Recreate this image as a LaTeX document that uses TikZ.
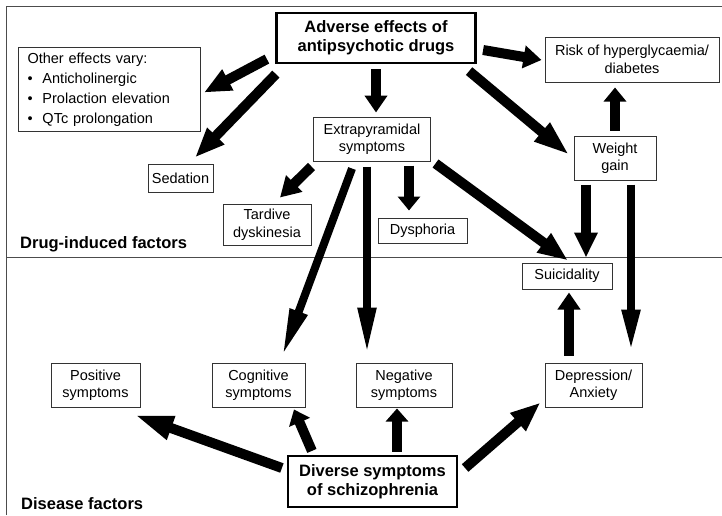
\documentclass[tikz,border=0pt]{standalone}
\usepackage{fontspec}
\setmainfont{Liberation Sans}
\usetikzlibrary{arrows.meta,positioning}
\newcommand{\bodyfont}{\fontsize{14.5}{17.5}\selectfont}
\newcommand{\headfont}{\fontsize{16.5}{19}\selectfont\bfseries}

\begin{document}
\begin{tikzpicture}[x=1pt,y=-1pt,
  box/.style={draw=black!80, line width=1pt, align=center, font=\bodyfont, inner sep=0pt},
  mainbox/.style={draw, line width=2.2pt, align=center, font=\headfont, inner sep=0pt},
  fatarrow/.style={line width=10pt, -{Triangle[length=#1, width=22pt]}},
  fatarrow/.default=18pt,
  slimarrow/.style={line width=8pt, -{Triangle[length=#1, width=17pt]}},
  slimarrow/.default=45pt]
\useasboundingbox (0,0) rectangle (722,515);

% Frame and divider
\draw[black!70, line width=1pt] (6,515) -- (6,6) -- (722,6);
\draw[black!70, line width=1pt] (6,257) -- (722,257);
\node[font=\headfont, anchor=base west, inner sep=0pt] (druglabel) at (20,248) {Drug-induced factors};
\node[font=\headfont, anchor=base west, inner sep=0pt] (diseaselabel) at (21,509) {Disease factors};

% Drug-induced side
\node[mainbox, minimum width=199pt, minimum height=50pt] (adverse) at (376,38) {Adverse effects of\\antipsychotic drugs};
\node[box, anchor=north west, minimum width=182pt, minimum height=84pt, text width=164pt, align=left,
  font=\fontsize{14.5}{20}\selectfont] (other) at (18,47)
  {Other effects vary:\\
   \makebox[15pt][l]{\textbullet}Anticholinergic\\
   \makebox[15pt][l]{\textbullet}Prolaction elevation\\
   \makebox[15pt][l]{\textbullet}QTc prolongation};
\node[box, minimum width=65pt, minimum height=28pt] (sedation) at (180.5,178) {Sedation};
\node[box, minimum width=88pt, minimum height=41pt] (tardive) at (267,224.5) {Tardive\\dyskinesia};
\node[box, minimum width=117pt, minimum height=44pt] (extra) at (372,139) {Extrapyramidal\\symptoms};
\node[box, minimum width=89pt, minimum height=25pt] (dysphoria) at (422.5,230.5) {Dysphoria};
\node[box, minimum width=174pt, minimum height=45pt] (risk) at (632,59.5) {Risk of hyperglycaemia/\\diabetes};
\node[box, minimum width=82pt, minimum height=44pt] (weight) at (615,158) {Weight\\gain};
\node[box, minimum width=90pt, minimum height=26pt] (suicide) at (567,276) {Suicidality};

% Disease side
\node[box, minimum width=97pt, minimum height=44pt] (depress) at (593.5,385) {Depression/\\Anxiety};
\node[box, minimum width=96pt, minimum height=44pt] (negative) at (404,385) {Negative\\symptoms};
\node[box, minimum width=93pt, minimum height=44pt] (cognitive) at (258.5,385) {Cognitive\\symptoms};
\node[box, minimum width=89pt, minimum height=44pt] (positive) at (95.5,385) {Positive\\symptoms};
\node[mainbox, minimum width=169pt, minimum height=51pt] (diverse) at (372.5,481.5) {Diverse symptoms\\of schizophrenia};

% Arrows from the drugs
\draw[fatarrow=27pt] ([shift={(-8.5,-5)}]adverse.south west) -- ([shift={(3,3)}]other.east);
\draw[fatarrow=30pt] ([shift={(0.5,10)}]adverse.south west) -- ([shift={(14.5,-6)}]sedation.north);
\draw[fatarrow=17pt] ([shift={(0,5)}]adverse.south) -- ([shift={(4,-4)}]extra.north);
\draw[fatarrow=18pt] ([shift={(6.5,12)}]adverse.east) -- ([shift={(-3,0.5)}]risk.west);
\draw[fatarrow=36pt] ([shift={(-7.5,7)}]adverse.south east) -- ([shift={(-4,-3)}]weight.west);
\draw[fatarrow=14pt] ([shift={(0,-5)}]weight.north) -- ([shift={(-17,5)}]risk.south);

% Arrows from extrapyramidal symptoms
\draw[fatarrow=20pt] ([shift={(-1.5,5)}]extra.south west) -- ([shift={(13,-6)}]tardive.north);
\draw[fatarrow=14pt] ([shift={(37,4)}]extra.south) -- ([shift={(-13.5,-7)}]dysphoria.north);
\draw[fatarrow=30pt] ([shift={(4.5,2)}]extra.south east) -- ([shift={(1,-2)}]suicide.north);
\draw[slimarrow=48pt] ([shift={(-20,7)}]extra.south) -- ([shift={(23.5,-6)}]cognitive.north);
\draw[slimarrow=47pt] ([shift={(-5,5)}]extra.south) -- ([shift={(-37,-8)}]negative.north);

% Weight gain and depression
\draw[fatarrow=25pt] ([shift={(-29,4)}]weight.south) -- ([shift={(19,-5)}]suicide.north);
\draw[slimarrow=42pt] ([shift={(16,4)}]weight.south) -- ([shift={(37.5,-11)}]depress.north);
\draw[fatarrow=17pt] ([shift={(-24.5,-7)}]depress.north) -- ([shift={(2,3)}]suicide.south);

% Arrows from the illness
\draw[fatarrow=40pt] ([shift={(-5,-13.5)}]diverse.west) -- ([shift={(-7,7)}]positive.south east);
\draw[fatarrow=14pt] ([shift={(25,-4)}]diverse.north west) -- ([shift={(35.5,2)}]cognitive.south);
\draw[fatarrow=13pt] ([shift={(24.5,-3)}]diverse.north) -- ([shift={(-7,1)}]negative.south);
\draw[fatarrow=30pt] ([shift={(7,-13.5)}]diverse.east) -- ([shift={(-4,-5)}]depress.south west);
\end{tikzpicture}
\end{document}
